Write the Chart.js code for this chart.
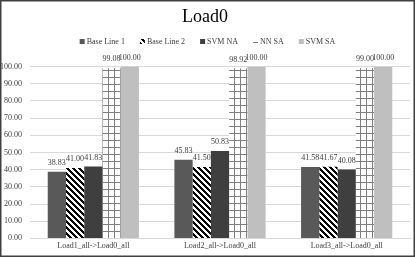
<!DOCTYPE html>
<html>
<head>
<meta charset="utf-8">
<script src="https://cdn.jsdelivr.net/npm/chart.js@4"></script>
<style>
  html, body { margin: 0; padding: 0; background: #fff; }
  canvas { display: block; }
</style>
</head>
<body>
<canvas id="LoadChart" width="415" height="257"></canvas>
<script>
const categories = ['Load1_all->Load0_all', 'Load2_all->Load0_all', 'Load3_all->Load0_all'];
const seriesNames = ['Base Line 1', 'Base Line 2', 'SVM NA', 'NN SA', 'SVM SA'];
const base_line_1 = [38.83, 45.83, 41.58];
const base_line_2 = [41.00, 41.50, 41.67];
const svm_na = [41.83, 50.83, 40.08];
const nn_sa = [99.08, 98.92, 99.00];
const svm_sa = [100.00, 100.00, 100.00];

const serif = "'Liberation Serif', 'Times New Roman', serif";

// diagonal black/white stripes
function makeHatch() {
    let c = document.createElement('canvas');
    let n = 6;
    c.width = n; c.height = n;
    let g = c.getContext('2d');
    g.fillStyle = '#fff';
    g.fillRect(0, 0, n, n);
    g.fillStyle = '#000';
    for (let x = 0; x < n; x++) {
        for (let y = 0; y < n; y++) {
            if ((((x - y) % n) + n) % n < 3) g.fillRect(x, y, 1, 1);
        }
    }
    return g.createPattern(c, 'repeat');
}

// small gray grid
function makeGrid() {
    let c = document.createElement('canvas');
    c.width = 6; c.height = 7;
    let g = c.getContext('2d');
    g.fillStyle = '#fff';
    g.fillRect(0, 0, 6, 7);
    g.fillStyle = '#7f7f7f';
    g.fillRect(0, 0, 1, 7);
    g.fillRect(0, 0, 6, 1);
    return g.createPattern(c, 'repeat');
}

const fills = ['#595959', makeHatch(), '#3f3f3f', makeGrid(), '#bfbfbf'];
const values = [base_line_1, base_line_2, svm_na, nn_sa, svm_sa];

let datasets = [];
for (let i = 0; i < seriesNames.length; i++) {
    datasets.push({
        label: seriesNames[i],
        data: values[i],
        backgroundColor: fills[i],
        borderWidth: 0,
        categoryPercentage: 0.72,
        barPercentage: 1.0
    });
}

const valueLabels = {
    id: 'valueLabels',
    afterDatasetsDraw(chart) {
        let ctx = chart.ctx;
        ctx.save();
        ctx.font = '8px ' + serif;
        ctx.fillStyle = '#404040';
        ctx.textAlign = 'center';
        ctx.textBaseline = 'bottom';
        chart.data.datasets.forEach((ds, i) => {
            let meta = chart.getDatasetMeta(i);
            meta.data.forEach((bar, j) => {
                ctx.fillText(ds.data[j].toFixed(2), bar.x, bar.y - 5);
            });
        });
        ctx.restore();
    }
};

const customLegend = {
    id: 'customLegend',
    afterDraw(chart) {
        let ctx = chart.ctx;
        ctx.save();
        ctx.font = '8px ' + serif;
        let box = 5, gapText = 2, gapItem = 15;
        let widths = chart.data.datasets.map(ds => box + gapText + ctx.measureText(ds.label).width);
        let total = widths.reduce((a, b) => a + b, 0) + gapItem * (widths.length - 1);
        let x = (chart.width - total) / 2;
        let y = 42;
        ctx.textBaseline = 'middle';
        ctx.textAlign = 'left';
        chart.data.datasets.forEach((ds, i) => {
            ctx.fillStyle = ds.backgroundColor;
            ctx.fillRect(x, y - 3, box, box);
            ctx.fillStyle = '#404040';
            ctx.fillText(ds.label, x + box + gapText, y);
            x += widths[i] + gapItem;
        });
        // outer frame
        ctx.strokeStyle = '#404040';
        ctx.lineWidth = 1.5;
        ctx.strokeRect(0.75, 0.75, chart.width - 1.5, chart.height - 1.5);
        ctx.restore();
    }
};

const config = {
    type: 'bar',
    data: {
        labels: categories,
        datasets: datasets
    },
    options: {
        responsive: false,
        animation: false,
        devicePixelRatio: 1,
        layout: {
            padding: { left: 0, right: 5, top: 0, bottom: 3 }
        },
        plugins: {
            legend: { display: false },
            tooltip: { enabled: false },
            title: {
                display: true,
                text: 'Load0',
                color: '#000',
                font: { family: serif, size: 18, weight: 'normal' },
                padding: { top: 6, bottom: 39 }
            }
        },
        scales: {
            x: {
                grid: { display: false, drawTicks: false },
                border: { color: '#d9d9d9' },
                ticks: {
                    color: '#404040',
                    font: { family: serif, size: 8 },
                    padding: 3,
                    maxRotation: 0
                }
            },
            y: {
                min: 0,
                max: 100,
                afterFit(scale) { scale.width = 30; },
                grid: { color: '#d9d9d9', drawTicks: false },
                border: { display: false },
                ticks: {
                    stepSize: 10,
                    color: '#404040',
                    font: { family: serif, size: 8 },
                    padding: 8,
                    callback: v => v.toFixed(2)
                }
            }
        }
    },
    plugins: [valueLabels, customLegend]
};

let LoadChart = new Chart(document.getElementById('LoadChart'), config);
</script>
</body>
</html>
